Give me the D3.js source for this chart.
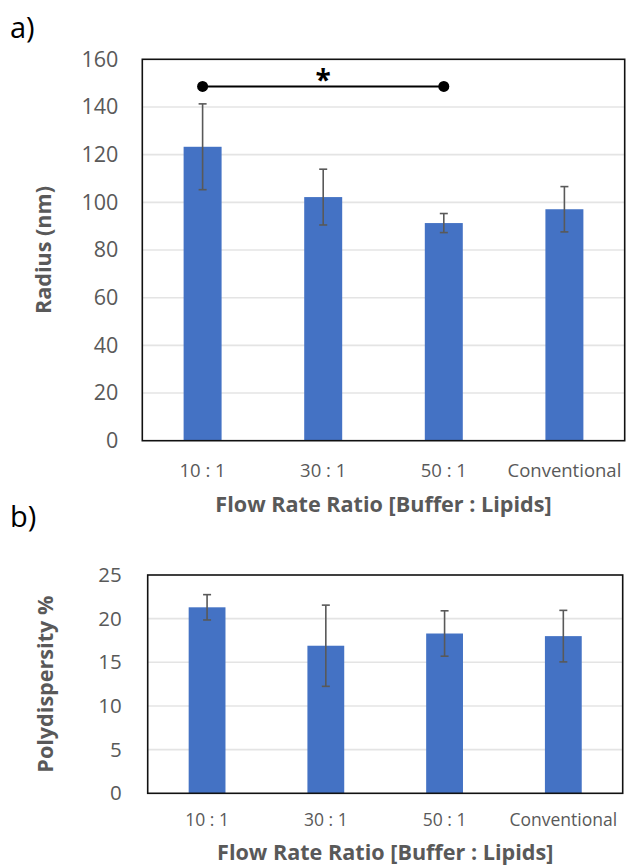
<!DOCTYPE html>
<html>
<head>
<meta charset="utf-8">
<script src="https://cdn.jsdelivr.net/npm/d3@7"></script>
<style>
  html, body { margin: 0; padding: 0; background: #fff; }
  svg { display: block; font-family: "Open Sans", "Noto Sans", sans-serif; }
</style>
</head>
<body>
<svg id="fig" width="626" height="865"></svg>
<script>
// Liposome size and polydispersity by flow rate ratio
const categories = ["10 : 1", "30 : 1", "50 : 1", "Conventional"];
const radiusMean = [123.3, 102.2, 91.3, 97.1];
const radiusSd = [18.0, 11.7, 4.0, 9.5];
const pdiMean = [21.3, 16.9, 18.3, 18.0];
const pdiSd = [1.45, 4.65, 2.6, 2.95];
const radiusTicks = [0, 20, 40, 60, 80, 100, 120, 140, 160];
const pdiTicks = [0, 5, 10, 15, 20, 25];
// significant pair in panel a): categories 0 and 2, bracket drawn at 148.6 nm
const sigPair = [0, 2];
const sigLevel = 148.6;

const BAR = "#4472C4", ERR = "#595959", TXT = "#595959", GRID = "#e4e4e4";
const svg = d3.select("#fig");

function panel(opt) {
  const g = svg.append("g");
  const x = d3.scaleBand().domain(categories)
    .range([opt.left, opt.right]).paddingInner(opt.pad).paddingOuter(opt.pad / 2);
  const y = d3.scaleLinear().domain([0, opt.max]).range([opt.bottom, opt.top]);

  // horizontal gridlines
  g.append("g").selectAll("line").data(opt.ticks.filter(t => t > 0 && t < opt.max)).join("line")
    .attr("x1", opt.left).attr("x2", opt.right)
    .attr("y1", d => y(d)).attr("y2", d => y(d))
    .attr("stroke", GRID).attr("stroke-width", 1.6);

  // y axis labels
  const ya = g.append("g").attr("transform", `translate(${opt.left},0)`)
    .call(d3.axisLeft(y).tickValues(opt.ticks).tickSize(0).tickPadding(opt.yPad));
  ya.select(".domain").remove();
  ya.selectAll("text").attr("fill", TXT).style("font-size", opt.yFont + "px")
    .style("font-family", "'Open Sans', sans-serif");

  // x axis labels
  const xa = g.append("g").attr("transform", `translate(0,${opt.bottom})`)
    .call(d3.axisBottom(x).tickSize(0).tickPadding(opt.xPad));
  xa.select(".domain").remove();
  xa.selectAll("text").attr("fill", TXT).style("font-size", opt.xFont + "px")
    .style("font-family", "'Open Sans', sans-serif");

  // bars
  g.append("g").selectAll("rect").data(opt.mean).join("rect")
    .attr("x", (d, i) => x(categories[i])).attr("width", x.bandwidth())
    .attr("y", d => y(d)).attr("height", d => y(0) - y(d))
    .attr("fill", BAR);

  // error bars
  const eb = g.append("g").attr("stroke", ERR).attr("stroke-width", 1.6).attr("fill", "none");
  opt.mean.forEach((m, i) => {
    const cx = x(categories[i]) + x.bandwidth() / 2;
    const lo = y(m - opt.sd[i]), hi = y(m + opt.sd[i]);
    eb.append("line").attr("x1", cx).attr("x2", cx).attr("y1", lo).attr("y2", hi);
    eb.append("line").attr("x1", cx - 4).attr("x2", cx + 4).attr("y1", lo).attr("y2", lo);
    eb.append("line").attr("x1", cx - 4).attr("x2", cx + 4).attr("y1", hi).attr("y2", hi);
  });

  // plot frame
  g.append("rect").attr("x", opt.left).attr("y", opt.top)
    .attr("width", opt.right - opt.left).attr("height", opt.bottom - opt.top)
    .attr("fill", "none").attr("stroke", "#111").attr("stroke-width", 1.6);

  // axis titles
  g.append("text").attr("x", (opt.left + opt.right) / 2).attr("y", opt.xTitleY)
    .attr("text-anchor", "middle").attr("fill", TXT).attr("font-weight", 700)
    .style("font-size", opt.titleFont + "px").text("Flow Rate Ratio [Buffer : Lipids]");
  g.append("text")
    .attr("transform", `translate(${opt.yTitleX},${(opt.top + opt.bottom) / 2}) rotate(-90)`)
    .attr("text-anchor", "middle").attr("fill", TXT).attr("font-weight", 700)
    .style("font-size", opt.titleFont + "px").text(opt.yTitle);

  // panel letter
  svg.append("text").attr("x", 10).attr("y", opt.letterY).attr("fill", "#000")
    .style("font-size", "29px").text(opt.letter);

  return { g, x, y };
}

const a = panel({
  left: 142.3, right: 624.7, top: 59.3, bottom: 440.7, pad: 0.685,
  max: 160, ticks: radiusTicks, mean: radiusMean, sd: radiusSd,
  yFont: 21.5, yPad: 24, xFont: 18.5, xPad: 23, titleFont: 21.6,
  xTitleY: 511.5, yTitleX: 51, yTitle: "Radius (nm)", letter: "a)", letterY: 38
});

panel({
  left: 147.7, right: 622.7, top: 575, bottom: 793.3, pad: 0.69,
  max: 25, ticks: pdiTicks, mean: pdiMean, sd: pdiSd,
  yFont: 20.5, yPad: 26, xFont: 17.5, xPad: 20, titleFont: 21.6,
  xTitleY: 860, yTitleX: 53, yTitle: "Polydispersity %", letter: "b)", letterY: 527
});

// significance bracket in panel a)
const sx0 = a.x(categories[sigPair[0]]) + a.x.bandwidth() / 2;
const sx1 = a.x(categories[sigPair[1]]) + a.x.bandwidth() / 2;
const sy = a.y(sigLevel);
a.g.append("line").attr("x1", sx0).attr("x2", sx1).attr("y1", sy).attr("y2", sy)
  .attr("stroke", "#000").attr("stroke-width", 2);
a.g.selectAll("circle.sig").data([sx0, sx1]).join("circle").attr("class", "sig")
  .attr("cx", d => d).attr("cy", sy).attr("r", 5.5).attr("fill", "#000");
a.g.append("text").attr("x", (sx0 + sx1) / 2).attr("y", sy + 4)
  .attr("text-anchor", "middle").attr("font-weight", 700).attr("fill", "#000")
  .style("font-size", "28px").text("*");
</script>
</body>
</html>
